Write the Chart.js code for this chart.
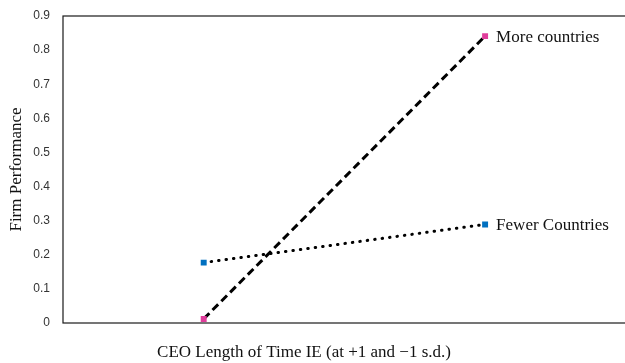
<!DOCTYPE html>
<html>
<head>
<meta charset="utf-8">
<script src="https://cdn.jsdelivr.net/npm/chart.js@4/dist/chart.umd.min.js"></script>
<style>
html,body{margin:0;padding:0;background:#fff;overflow:hidden;}
#wrap{width:630px;height:363px;}
</style>
</head>
<body>
<div id="wrap"><canvas id="c" width="630" height="363"></canvas></div>
<script>
const categories = ['-1 s.d.', '+1 s.d.'];
const moreCountries = [0.012, 0.841];
const fewerCountries = [0.177, 0.289];
const seriesNames = ['More countries', 'Fewer Countries'];
const yTicks = [0, 0.1, 0.2, 0.3, 0.4, 0.5, 0.6, 0.7, 0.8, 0.9];
const yTitle = 'Firm Performance';
const xTitle = 'CEO Length of Time IE (at +1 and \u22121 s.d.)';

const serif = '"Liberation Serif", "Times New Roman", serif';

const decor = {
  id: 'decor',
  beforeDatasetsDraw(chart) {
    const {ctx, chartArea: a} = chart;
    ctx.save();
    ctx.strokeStyle = '#1a1a1a';
    ctx.lineWidth = 1.2;
    ctx.strokeRect(a.left, a.top, a.right - a.left, a.bottom - a.top);
    ctx.restore();
  },
  afterDraw(chart) {
    const {ctx, chartArea: a} = chart;
    ctx.save();
    ctx.fillStyle = '#111';
    ctx.font = '17px ' + serif;
    ctx.textAlign = 'center';
    ctx.textBaseline = 'middle';
    ctx.fillText(xTitle, 304, 353);
    ctx.translate(17, (a.top + a.bottom) / 2);
    ctx.rotate(-Math.PI / 2);
    ctx.fillText(yTitle, 0, 0);
    ctx.restore();
    ctx.save();
    ctx.fillStyle = '#111';
    ctx.font = '17px ' + serif;
    ctx.textAlign = 'left';
    ctx.textBaseline = 'middle';
    chart.data.datasets.forEach((ds, i) => {
      const meta = chart.getDatasetMeta(i);
      const p = meta.data[meta.data.length - 1];
      ctx.fillText(seriesNames[i], p.x + 11, p.y + 1);
    });
    ctx.restore();
  }
};

new Chart(document.getElementById('c'), {
  type: 'line',
  data: {
    labels: categories,
    datasets: [
      {
        label: seriesNames[0],
        data: moreCountries,
        borderColor: '#000',
        borderWidth: 3,
        borderDash: [8, 4.5],
        pointStyle: 'rect',
        pointRadius: 4.2,
        pointBackgroundColor: '#e03c9b',
        pointBorderColor: '#e03c9b',
        pointBorderWidth: 0,
        tension: 0,
        fill: false
      },
      {
        label: seriesNames[1],
        data: fewerCountries,
        borderColor: '#000',
        borderWidth: 3,
        borderDash: [0.5, 7],
        borderCapStyle: 'round',
        pointStyle: 'rect',
        pointRadius: 4.2,
        pointBackgroundColor: '#0070c0',
        pointBorderColor: '#0070c0',
        pointBorderWidth: 0,
        tension: 0,
        fill: false
      }
    ]
  },
  options: {
    responsive: false,
    animation: false,
    layout: {padding: {left: 0, right: 1, top: 16, bottom: 40}},
    plugins: {legend: {display: false}, tooltip: {enabled: false}},
    scales: {
      x: {
        type: 'category',
        offset: true,
        display: false
      },
      y: {
        min: 0,
        max: 0.9,
        afterBuildTicks(scale) { scale.ticks = yTicks.map(v => ({value: v})); },
        afterFit(scale) { scale.width = 63; scale.paddingTop = 0; scale.paddingBottom = 0; },
        grid: {display: false, drawTicks: false},
        border: {display: false},
        ticks: {
          padding: 13,
          color: '#333',
          font: {family: '"Liberation Sans", Arial, sans-serif', size: 12},
          callback: v => String(Math.round(v * 10) / 10)
        }
      }
    }
  },
  plugins: [decor]
});
</script>
</body>
</html>
